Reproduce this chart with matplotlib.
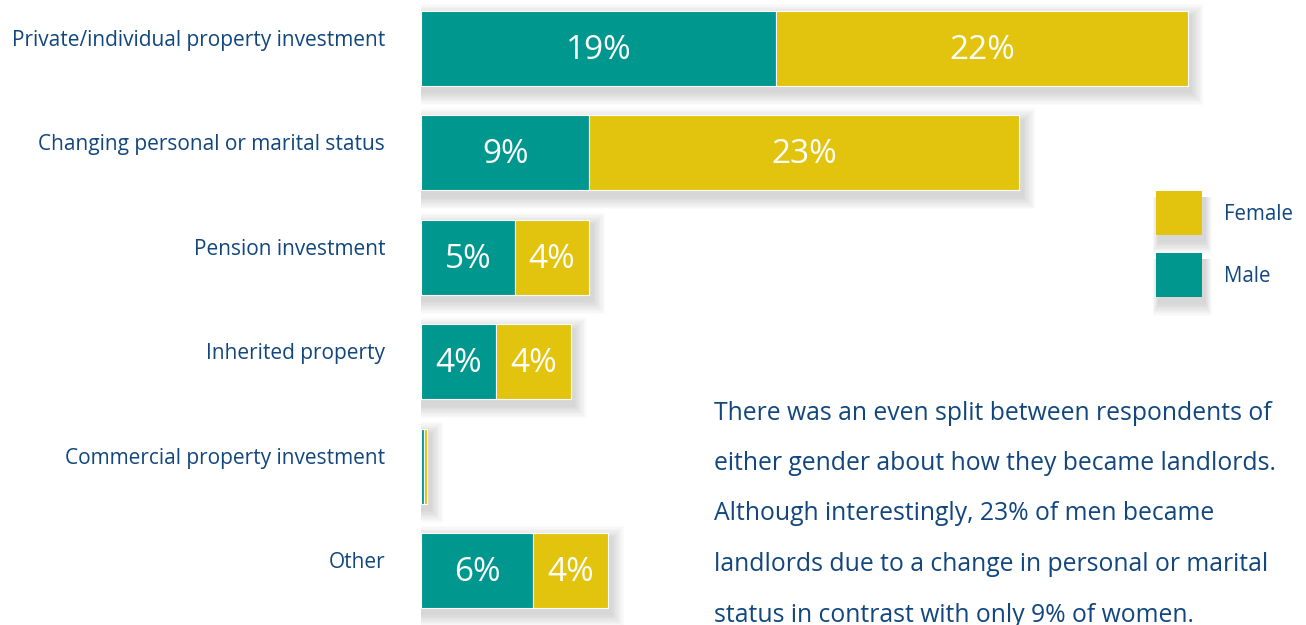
import matplotlib.pyplot as plt
from matplotlib.patches import Rectangle

# data (percent of respondents)
categories = [
    "Private/individual property investment",
    "Changing personal or marital status",
    "Pension investment",
    "Inherited property",
    "Commercial property investment",
    "Other",
]
male = [19, 9, 5, 4, 0.17, 6]
female = [22, 23, 4, 4, 0.17, 4]
male_labels = ["19%", "9%", "5%", "4%", "", "6%"]
female_labels = ["22%", "23%", "4%", "4%", "", "4%"]

note_lines = [
    "There was an even split between respondents of",
    "either gender about how they became landlords.",
    "Although interestingly, 23% of men became",
    "landlords due to a change in personal or marital",
    "status in contrast with only 9% of women.",
]

teal = "#00978f"
yellow = "#e2c30d"
navy = "#11467f"
font = "Open Sans"

W, H = 1306, 625
fig = plt.figure(figsize=(W / 100, H / 100), dpi=100)
ax = fig.add_axes([421 / W, 0, 1 - 421 / W, 1])
px_x = 1 / 18.7     # one pixel in % units
px_y = 1 / 104.4    # one pixel in row units
ax.set_xlim(0, (W - 421) * px_x)
ax.set_ylim((H - 48.5) * px_y, -48.5 * px_y)
ax.axis("off")

ypos = list(range(len(categories)))
bar_h = 75 * px_y

# soft drop shadow behind each bar
totals = [m + f for m, f in zip(male, female)]
for k in range(1, 11):
    grow = k * 1.3
    ax.barh([y + 6 * px_y for y in ypos], [t + (3 + grow) * px_x for t in totals],
            left=0, height=bar_h + grow * px_y * 2, color="black",
            alpha=0.015, linewidth=0, zorder=1)

ax.barh(ypos, male, height=bar_h, color=teal, edgecolor="white", linewidth=0.8, zorder=3)
ax.barh(ypos, female, left=male, height=bar_h, color=yellow, edgecolor="white",
        linewidth=0.8, zorder=3)

for y, m, f, ml, fl in zip(ypos, male, female, male_labels, female_labels):
    if ml:
        ax.text(m / 2, y + 2 * px_y, ml, ha="center", va="center", color="white",
                fontsize=24, family=font, zorder=4)
    if fl:
        ax.text(m + f / 2, y + 2 * px_y, fl, ha="center", va="center", color="white",
                fontsize=24, family=font, zorder=4)
    ax.text(-36 * px_x, y - 8 * px_y, categories[y], ha="right", va="center",
            color=navy, fontsize=15, family=font)

# legend squares with shadows
for label, color, top in [("Female", yellow, 191), ("Male", teal, 253)]:
    for k in range(1, 11):
        g = k * 1.3
        fig.patches.append(Rectangle(((1156 + 3 - g / 2) / W, 1 - (top + 44 + 6 + g) / H),
                                     (46 + g) / W, (44 + g) / H, transform=fig.transFigure,
                                     color="black", alpha=0.015, linewidth=0))
    fig.patches.append(Rectangle((1156 / W, 1 - (top + 44) / H), 46 / W, 44 / H,
                                 transform=fig.transFigure, color=color, linewidth=0))
    fig.text(1224 / W, 1 - (top + 24) / H, label, ha="left", va="center",
             color=navy, fontsize=14.8, family=font)

for i, line in enumerate(note_lines):
    fig.text(714 / W, 1 - (413 + 50.5 * i) / H, line, ha="left", va="center",
             color=navy, fontsize=17.8, family=font)

fig.savefig("out.png", dpi=100, facecolor="white")
